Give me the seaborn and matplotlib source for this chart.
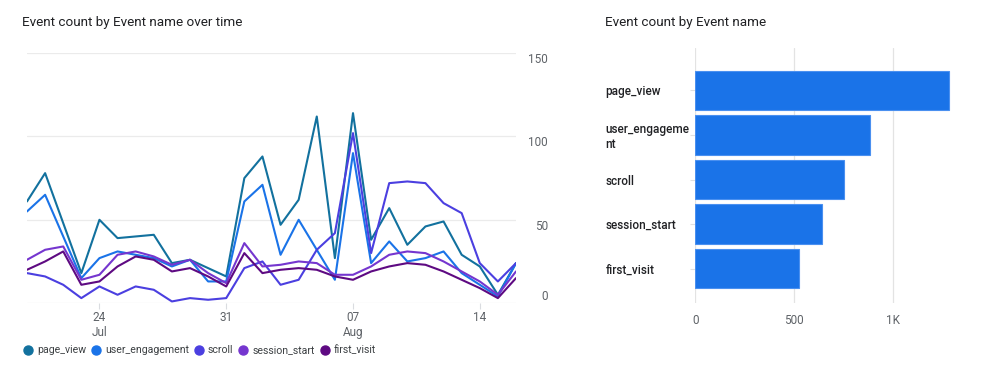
import numpy as np
import pandas as pd
import seaborn as sns
import matplotlib.pyplot as plt
from matplotlib.lines import Line2D

sns.set_style("white")
plt.rcParams["font.family"] = ["Roboto", "DejaVu Sans"]

# daily event counts, 20 Jul - 16 Aug
dates = pd.date_range("2024-07-20", periods=28, freq="D")
page_view = [61, 78, 48, 18, 50, 39, 40, 41, 24, 26, 21, 16, 75, 88,
             47, 62, 112, 27, 114, 38, 57, 35, 46, 49, 29, 22, 5, 24]
user_engagement = [55, 65, 40, 15, 27, 31, 29, 27, 22, 26, 13, 13, 61, 71,
                   29, 50, 32, 14, 90, 24, 37, 25, 27, 31, 18, 11, 4, 24]
scroll = [18, 16, 11, 3, 10, 5, 10, 8, 1, 3, 2, 3, 21, 25,
          11, 14, 32, 42, 102, 30, 72, 73, 72, 60, 54, 24, 13, 24]
session_start = [26, 32, 34, 14, 17, 29, 31, 28, 23, 26, 18, 12, 36, 22,
                 23, 25, 24, 17, 17, 22, 29, 31, 30, 25, 19, 13, 5, 19]
first_visit = [20, 25, 31, 11, 13, 22, 28, 26, 19, 21, 16, 10, 30, 18,
               20, 21, 20, 16, 14, 19, 22, 24, 23, 19, 14, 9, 3, 15]

events = ["page_view", "user_engagement", "scroll", "session_start", "first_visit"]
totals = [1284, 883, 755, 643, 526]
colors = ["#12719e", "#1a73e8", "#4b3fe0", "#7536cf", "#5e0a82"]

date_ticks = pd.to_datetime(["2024-07-24", "2024-07-31", "2024-08-07", "2024-08-14"])
date_labels = ["24\nJul", "31", "07\nAug", "14"]

series = [page_view, user_engagement, scroll, session_start, first_visit]
df = pd.concat([pd.DataFrame({"date": dates, "count": s, "event": e})
                for e, s in zip(events, series)])
bars = pd.DataFrame({"event": events, "total": totals})

fig = plt.figure(figsize=(10, 3.77), dpi=100)
ax1 = fig.add_axes([0.027, 0.196, 0.489, 0.663])
ax2 = fig.add_axes([0.6953, 0.196, 0.265, 0.677])

# left: lines over time
sns.lineplot(data=df, x="date", y="count", hue="event", hue_order=events,
             palette=colors, linewidth=1.5, legend=False, ax=ax1)
ax1.set_xlim(dates[0], dates[-1])
ax1.set_ylim(0, 150)
ax1.set_yticks([0, 50, 100, 150])
ax1.yaxis.tick_right()
ax1.tick_params(axis="y", length=0, pad=23, labelsize=8.5, labelcolor="#5f6368")
for lab in ax1.get_yticklabels():
    lab.set_horizontalalignment("right")
    lab.set_verticalalignment("bottom" if lab.get_text() == "0" else "top")
ax1.set_xticks(date_ticks)
ax1.set_xticklabels(date_labels)
ax1.tick_params(axis="x", length=4, color="#dadce0", pad=2, labelsize=8.5,
                labelcolor="#5f6368", bottom=True)
ax1.grid(axis="y", color="#ebebeb", linewidth=0.9)
ax1.set_axisbelow(True)
for sp in ax1.spines.values():
    sp.set_visible(False)
ax1.set_xlabel("")
ax1.set_ylabel("")

fig.text(0.022, 0.94, "Event count by Event name over time", fontsize=9.7,
         color="#202124", va="center")

handles = [Line2D([], [], marker="o", linestyle="", markersize=6.5, color=c)
           for c in colors]
fig.legend(handles, events, loc="center left", bbox_to_anchor=(0.0146, 0.071),
           ncol=5, frameon=False, fontsize=7.6, handlelength=0.7,
           handletextpad=0.5, columnspacing=0.6, labelcolor="#3c4043")

# right: totals by event
sns.barplot(data=bars, x="total", y="event", order=events, color="#1a73e8",
            width=0.88, saturation=1, edgecolor="#4a90f0", linewidth=0.8, ax=ax2)
ax2.set_xlim(0, 1343)
ax2.set_ylim(4.775, -0.955)
ax2.set_xticks([0, 500, 1000])
ax2.set_xticklabels(["0", "500", "1K"])
ax2.tick_params(axis="x", length=0, pad=8, labelsize=8.5, labelcolor="#5f6368")
ax2.set_yticks(range(len(events)))
ax2.set_yticklabels(["page_view", "user_engageme\nnt", "scroll",
                     "session_start", "first_visit"])
ax2.tick_params(axis="y", length=3.6, color="#e0e0e0", pad=61, labelsize=8.5,
                labelcolor="#202124", left=True)
for lab in ax2.get_yticklabels():
    lab.set_horizontalalignment("left")
    lab.set_fontweight("medium")
ax2.grid(axis="x", color="#e3e3e3", linewidth=0.9)
ax2.set_axisbelow(True)
for sp in ax2.spines.values():
    sp.set_visible(False)
ax2.set_xlabel("")
ax2.set_ylabel("")

fig.text(0.605, 0.94, "Event count by Event name", fontsize=9.7,
         color="#202124", va="center")

fig.savefig("out.png", dpi=100)
